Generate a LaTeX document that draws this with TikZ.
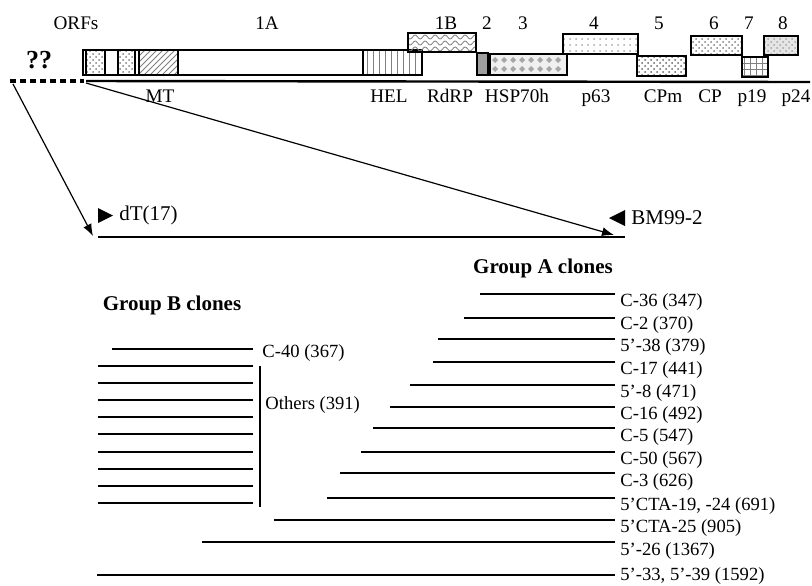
\documentclass[tikz,border=0pt]{standalone}
\usepackage{fontspec}
\setmainfont{Liberation Serif}
\usetikzlibrary{arrows.meta,patterns,decorations.pathmorphing}

\begin{document}
\begin{tikzpicture}[x=0.5pt,y=-0.5pt,>={Latex[length=6pt,width=4.5pt]},
  orf/.style={draw,line width=0.7pt},
  lbl/.style={anchor=base,inner sep=0pt,font=\fontsize{9.6}{11}\selectfont},
  clone/.style={line width=0.9pt},
  cname/.style={anchor=west,inner sep=0pt,font=\fontsize{9.3}{11}\selectfont},
  grp/.style={inner sep=0pt,font=\bfseries\fontsize{10.5}{12}\selectfont},
  primer/.style={anchor=west,inner sep=0pt,font=\fontsize{10.5}{12}\selectfont}]
\useasboundingbox (0,0) rectangle (812,585);

% genome map
\draw[line width=1.2pt] (86,81) -- (810,82);
\draw[line width=1.8pt,dash pattern=on 3pt off 2pt] (10,81) -- (84,81);
\node[inner sep=0pt,font=\bfseries\fontsize{13}{15}\selectfont] (qq) at (39,60) {??};

\draw[orf] (83,50) rectangle (363,75);
\draw[orf,pattern=crosshatch dots,pattern color=gray] (86,50) rectangle (105,75);
\draw[orf,pattern=crosshatch dots,pattern color=gray] (118,50) rectangle (135,75);
\draw[orf,pattern=north east lines,pattern color=gray] (139,50) rectangle (178,75);
\draw[orf,pattern=vertical lines,pattern color=gray] (363,50) rectangle (422,75);
% ORF 1B
\begin{scope}
\clip (408,33) rectangle (476,52);
\foreach \y in {37,43,49}
  \draw[gray,line width=0.4pt,decorate,decoration={snake,amplitude=1pt,segment length=5pt}] (402,\y) -- (482,\y);
\end{scope}
\draw[orf] (408,33) rectangle (476,52);
\draw[orf,fill=gray!75] (477,53) rectangle (488,75);
% ORF 3
\fill[gray!12] (490,54) rectangle (567,75);
\foreach \x in {495,504,...,563}
  \foreach \y in {60,69}
    \fill[gray!70] (\x,\y) ++(-3,0) -- ++(3,-3) -- ++(3,3) -- ++(-3,3) -- cycle;
\draw[orf] (490,54) rectangle (567,75);
\draw[orf,pattern=dots,pattern color=gray!70] (563,34) rectangle (638,54);
\draw[orf,pattern=crosshatch dots,pattern color=gray!80!black] (637,56) rectangle (686,76);
\draw[orf,pattern=crosshatch dots,pattern color=gray] (691,36) rectangle (742,55);
\draw[orf,pattern=grid,pattern color=gray] (742,57) rectangle (768,77);
\fill[gray!20] (764,36) rectangle (798,55);
\draw[orf,pattern=crosshatch dots,pattern color=gray!70] (764,36) rectangle (798,55);

\foreach \x/\t in {76/ORFs,267/1A,446/1B,487/2,523/3,594/4,659/5,714/6,749/7,783/8}
  \node[lbl] (o\t) at (\x,29) {\t};
\foreach \x/\t in {160/MT,389/HEL,450/RdRP,517/HSP70h,596/p63,663/CPm,710/CP,752/p19,796/p24}
  \node[lbl] (p\t) at (\x,102) {\t};

% expanded 5' region
\coordinate (dl) at (13,84);
\coordinate (dr) at (86,83);
\coordinate (sl) at (98,237);
\coordinate (sr) at (625,237);
\coordinate (tl) at (93,236);
\coordinate (tr) at (614,235);
\draw[->,line width=0.6pt] (dl) -- (tl);
\draw[->,line width=0.6pt] (dr) -- (tr);
\draw[clone] (sl) -- (sr);
\fill (98,208) -- (113,215.5) -- (98,223) -- cycle;
\node[primer] (dt) at (119,215) {dT(17)};
\fill (625,210) -- (609,218) -- (625,226) -- cycle;
\node[primer] (bm) at (631,218) {BM99-2};

% clones
\node[grp] (ga) at (543,268) {Group A clones};
\node[grp] (gb) at (172,305) {Group B clones};

\foreach \xs/\ly/\t/\ty [count=\i] in {480/294/{C-36 (347)}/302,
  464/318/{C-2 (370)}/325, 438/339/{5’-38 (379)}/347,
  433/362/{C-17 (441)}/370, 410/385/{5’-8 (471)}/393,
  390/407/{C-16 (492)}/415, 373/428/{C-5 (547)}/437,
  361/452/{C-50 (567)}/460, 340/473/{C-3 (626)}/482,
  327/498/{5’CTA-19, -24 (691)}/506, 274/520/{5’CTA-25 (905)}/528,
  202/542/{5’-26 (1367)}/551, 97/575/{5’-33, 5’-39 (1592)}/576}
{
  \draw[clone] (\xs,\ly) -- (615,\ly);
  \node[cname] (a\i) at (620,\ty) {\t};
}

\draw[clone] (112,349) -- (253,349);
\node[cname] (c40) at (262,353) {C-40 (367)};
\foreach \y in {366,383,400,417,434,452,469,486,503}
  \draw[clone] (98,\y) -- (253,\y);
\draw[line width=0.6pt] (260,366) -- (260,507);
\node[cname] (oth) at (265,405) {Others (391)};
\end{tikzpicture}
\end{document}
